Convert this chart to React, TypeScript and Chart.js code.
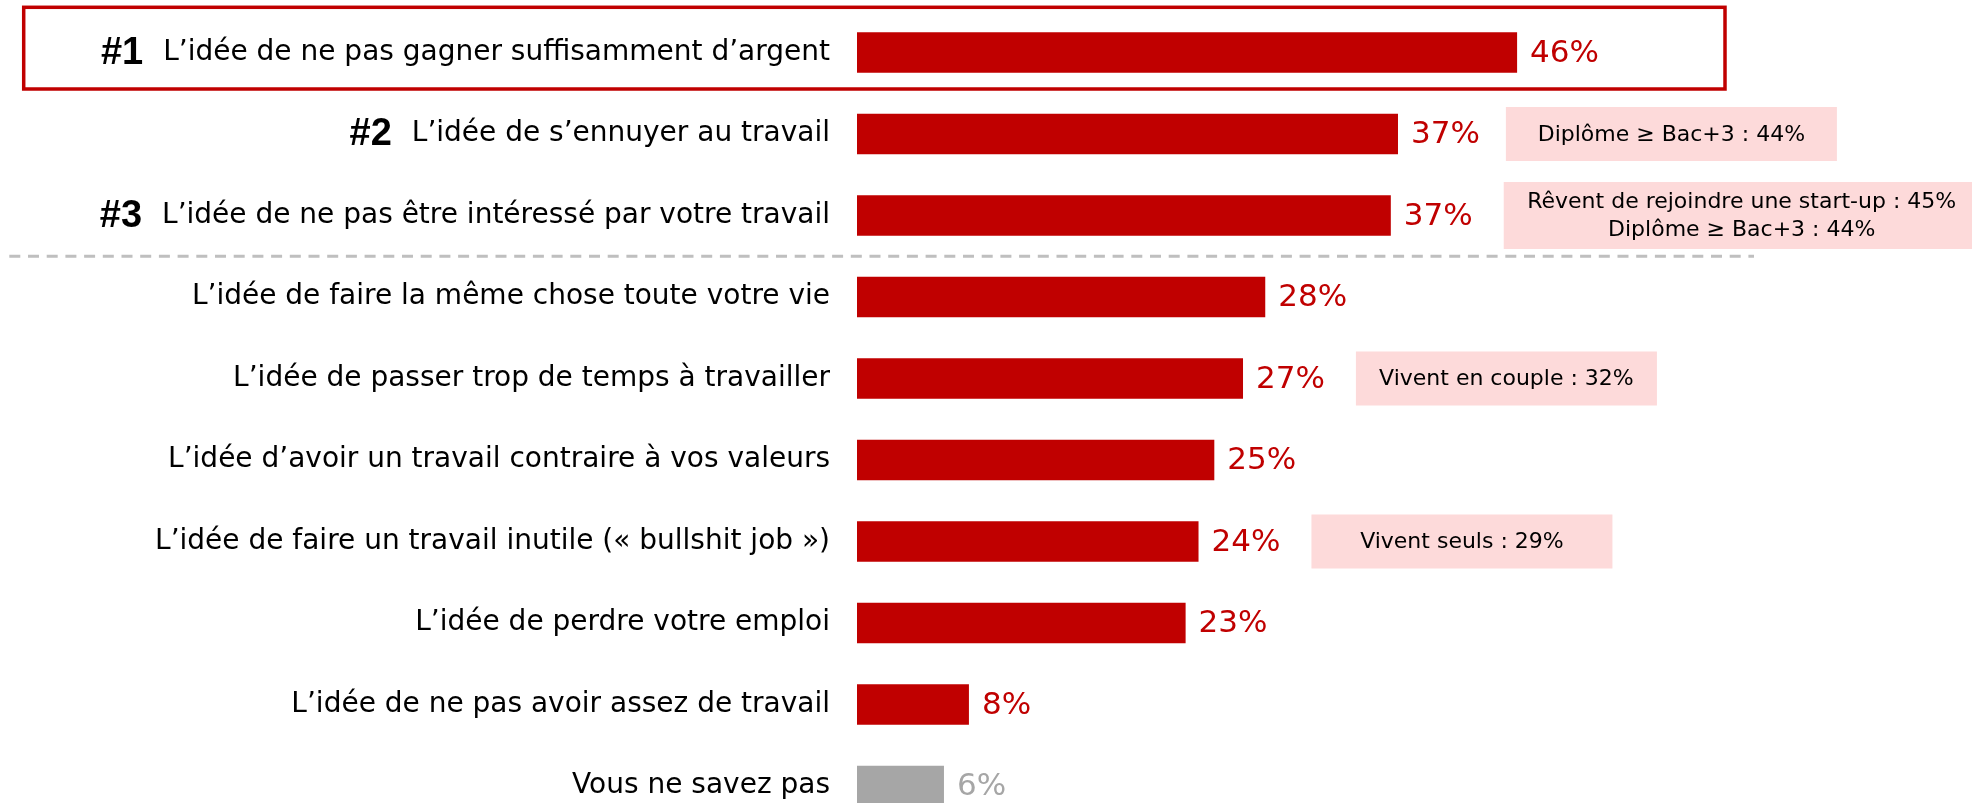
import React, { useEffect, useRef } from "react";
import { Chart, registerables } from "chart.js";

Chart.register(...registerables);

// ---------- data ----------
const categories = [
  "L’idée de ne pas gagner suffisamment d’argent",
  "L’idée de s’ennuyer au travail",
  "L’idée de ne pas être intéressé par votre travail",
  "L’idée de faire la même chose toute votre vie",
  "L’idée de passer trop de temps à travailler",
  "L’idée d’avoir un travail contraire à vos valeurs",
  "L’idée de faire un travail inutile (« bullshit job »)",
  "L’idée de perdre votre emploi",
  "L’idée de ne pas avoir assez de travail",
  "Vous ne savez pas",
];
const values = [46.0, 37.7, 37.2, 28.45, 26.9, 24.9, 23.8, 22.9, 7.8, 6.06];
const valueLabels = ["46%", "37%", "37%", "28%", "27%", "25%", "24%", "23%", "8%", "6%"];
const rankLabels = ["#1", "#2", "#3"];
const calloutRows = [1, 2, 4, 6];
const calloutTexts = [
  ["Diplôme ≥ Bac+3 : 44%"],
  ["Rêvent de rejoindre une start-up : 45%", "Diplôme ≥ Bac+3 : 44%"],
  ["Vivent en couple : 32%"],
  ["Vivent seuls : 29%"],
];

// ---------- styles / layout ----------
const FONT = "Verdana, 'DejaVu Sans', sans-serif";
const RANK_FONT = "'Liberation Sans', Arial, sans-serif";
const RED = "#C00000";
const GRAY = "#A6A6A6";
const PINK = "#FDDADA";
const calloutWidths = [331, 476, 301, 301];
const calloutGaps = [26, 31, 31, 31];
const W = 1972;
const H = 830;

const overlay = {
  id: "overlay",
  afterDatasetsDraw(chart: any) {
    const ctx = chart.ctx as CanvasRenderingContext2D;
    const yScale = chart.scales.y;
    const meta = chart.getDatasetMeta(0);
    ctx.save();

    // value labels
    ctx.font = `31px ${FONT}`;
    ctx.textBaseline = "middle";
    ctx.textAlign = "left";
    const labelEnds: number[] = [];
    meta.data.forEach((el: any, i: number) => {
      ctx.fillStyle = i === values.length - 1 ? GRAY : RED;
      const x = el.x + 13;
      ctx.fillText(valueLabels[i], x, el.y + 1);
      labelEnds[i] = x + ctx.measureText(valueLabels[i]).width;
    });

    // callouts
    calloutRows.forEach((row, k) => {
      const lines = calloutTexts[k];
      const cy = yScale.getPixelForValue(row);
      const h = lines.length > 1 ? 67 : 54;
      const left = labelEnds[row] + calloutGaps[k];
      const w = calloutWidths[k];
      ctx.fillStyle = PINK;
      ctx.fillRect(left, cy - h / 2, w, h);
      ctx.fillStyle = "#000";
      ctx.font = `22px ${FONT}`;
      ctx.textAlign = "center";
      ctx.textBaseline = "middle";
      const lh = 28;
      lines.forEach((t, j) => {
        const ty = cy + (j - (lines.length - 1) / 2) * lh;
        ctx.fillText(t, left + w / 2, ty + 1);
      });
    });

    // rank labels
    const labelRight = yScale.right - 27;
    rankLabels.forEach((r, i) => {
      ctx.font = `28px ${FONT}`;
      const lw = ctx.measureText(categories[i]).width;
      const cy = yScale.getPixelForValue(i);
      ctx.font = `bold 38px ${RANK_FONT}`;
      ctx.fillStyle = "#000";
      ctx.textAlign = "right";
      ctx.textBaseline = "alphabetic";
      ctx.fillText(r, labelRight - lw - 20, cy + 11);
    });

    // dashed separator
    const ySep = (yScale.getPixelForValue(2) + yScale.getPixelForValue(3)) / 2;
    ctx.strokeStyle = "#BFBFBF";
    ctx.lineWidth = 3;
    ctx.setLineDash([11, 7.7]);
    ctx.beginPath();
    ctx.moveTo(9.3, ySep);
    ctx.lineTo(1754, ySep);
    ctx.stroke();
    ctx.setLineDash([]);

    // highlight box around #1
    const c0 = yScale.getPixelForValue(0);
    ctx.strokeStyle = RED;
    ctx.lineWidth = 3.5;
    ctx.strokeRect(23.7, c0 - 45.2, 1725 - 23.7, 81.7);

    ctx.restore();
  },
};

export default function App() {
  const ref = useRef<HTMLCanvasElement | null>(null);
  useEffect(() => {
    if (!ref.current) return;
    const chart = new Chart(ref.current, {
      type: "bar",
      data: {
        labels: categories,
        datasets: [
          {
            data: values,
            backgroundColor: values.map((_, i) => (i === values.length - 1 ? GRAY : RED)),
            borderWidth: 0,
            barPercentage: 1,
            categoryPercentage: 0.496,
          },
        ],
      },
      options: {
        indexAxis: "y",
        responsive: false,
        animation: false,
        devicePixelRatio: 1,
        layout: { padding: { top: 11.75, bottom: 3.25, left: 0, right: 38.75 } },
        plugins: {
          legend: { display: false },
          tooltip: { enabled: false },
          title: { display: false },
        },
        scales: {
          x: { display: false, min: 0, max: 75 },
          y: {
            grid: { display: false, drawTicks: false },
            border: { display: false },
            ticks: {
              color: "#000",
              padding: 27,
              font: { family: FONT, size: 28 },
              autoSkip: false,
            },
            afterFit(scale: any) {
              scale.width = 857;
              scale.paddingTop = 0;
              scale.paddingBottom = 0;
            },
          },
        },
      },
      plugins: [overlay],
    } as any);
    return () => chart.destroy();
  }, []);

  return (
    <div
      style={{
        position: "fixed",
        top: 0,
        left: 0,
        width: W,
        height: 803,
        overflow: "hidden",
        background: "#fff",
      }}
    >
      <canvas ref={ref} width={W} height={H} style={{ width: W, height: H, display: "block" }} />
    </div>
  );
}
